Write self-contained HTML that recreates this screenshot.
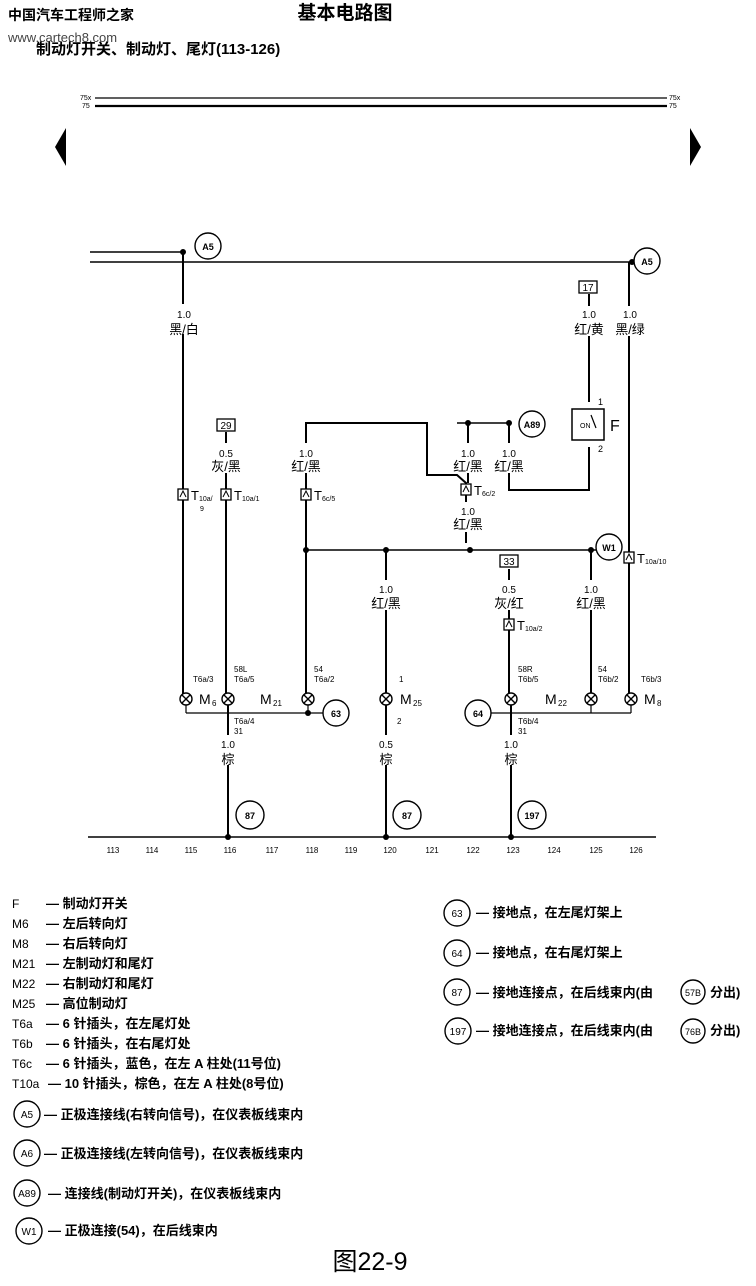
<!DOCTYPE html>
<html><head><meta charset="utf-8"><style>
html,body{margin:0;padding:0;background:#fff;}
svg{display:block;}
text{font-family:"Liberation Sans","Noto Sans CJK SC",sans-serif;fill:#000;}
</style></head><body>
<svg width="756" height="1286" viewBox="0 0 756 1286" xmlns="http://www.w3.org/2000/svg">
<defs>
<g id="lamp"><circle r="6" fill="#fff" stroke="#000" stroke-width="1.4"/><path d="M-4,-4L4,4M4,-4L-4,4" stroke="#000" stroke-width="1.4"/></g>
<g id="conn"><rect x="-5" y="-6" width="10" height="11" fill="#fff" stroke="#000" stroke-width="1.3"/><path d="M-3,2L0,-4L3,2" fill="none" stroke="#000" stroke-width="1"/></g>
</defs>
<!-- header -->
<text x="8" y="20" font-size="14" font-weight="bold">中国汽车工程师之家</text>
<text x="8" y="42" font-size="13" fill="#444" style="fill:#444">www.cartech8.com</text>
<text x="345" y="19" font-size="19" font-weight="bold" text-anchor="middle">基本电路图</text>
<text x="36" y="54" font-size="15" font-weight="bold">制动灯开关、制动灯、尾灯(113-126)</text>
<text x="80" y="100" font-size="7">75x</text><text x="82" y="108" font-size="7">75</text>
<line x1="95" y1="98" x2="667" y2="98" stroke="#000" stroke-width="1.3"/>
<line x1="95" y1="106" x2="667" y2="106" stroke="#000" stroke-width="2.2"/>
<text x="669" y="100" font-size="7">75x</text><text x="669" y="108" font-size="7">75</text>
<polygon points="66,128 55,147 66,166" fill="#000"/>
<polygon points="690,128 701,147 690,166" fill="#000"/>

<g stroke="#000" fill="none" stroke-width="2">
<line x1="90" y1="252" x2="183" y2="252" stroke-width="1.5"/>
<line x1="90" y1="262" x2="632" y2="262" stroke-width="1.5"/>
<line x1="183" y1="252" x2="183" y2="694"/>
<line x1="226" y1="432" x2="226" y2="694"/>
<path d="M306,694 V423 H427 V475 H457 L466,483 V543"/>
<line x1="457" y1="423" x2="509" y2="423" stroke-width="1.5"/>
<line x1="468" y1="423" x2="468" y2="483"/>
<path d="M509,423 V490 H589 V447"/>
<line x1="589" y1="294" x2="589" y2="402"/>
<line x1="629" y1="262" x2="629" y2="694"/>
<line x1="306" y1="550" x2="596" y2="550" stroke-width="1.5"/>
<line x1="386" y1="550" x2="386" y2="837"/>
<line x1="509" y1="569" x2="509" y2="694"/>
<line x1="591" y1="550" x2="591" y2="694"/>
<line x1="228" y1="705" x2="228" y2="837"/>
<line x1="511" y1="705" x2="511" y2="837"/>
<line x1="186" y1="705" x2="186" y2="713" stroke-width="1.2"/>
<line x1="186" y1="713" x2="324" y2="713" stroke-width="1.2"/>
<line x1="490" y1="713" x2="631" y2="713" stroke-width="1.2"/>
<line x1="631" y1="705" x2="631" y2="713" stroke-width="1.2"/>
<line x1="591" y1="705" x2="591" y2="713" stroke-width="1.2"/>
<line x1="308" y1="705" x2="308" y2="713" stroke-width="1.2"/>
<line x1="88" y1="837" x2="656" y2="837" stroke-width="1.5"/>
<rect x="572" y="409" width="32" height="31" stroke-width="1.5"/>
</g>
<g fill="#fff">
<rect x="168" y="304" width="32" height="30"/><rect x="210" y="443" width="32" height="30"/>
<rect x="290" y="443" width="32" height="30"/><rect x="452" y="443" width="32" height="30"/>
<rect x="493" y="443" width="32" height="30"/><rect x="452" y="502" width="32" height="30"/>
<rect x="572" y="306" width="34" height="30"/><rect x="613" y="306" width="34" height="30"/>
<rect x="370" y="580" width="32" height="30"/><rect x="493" y="580" width="32" height="30"/>
<rect x="575" y="580" width="32" height="30"/>
<rect x="212" y="735" width="32" height="30"/><rect x="370" y="735" width="32" height="30"/><rect x="495" y="735" width="32" height="30"/>
</g>
<g font-size="10" text-anchor="middle">
<text x="184" y="318">1.0</text><text x="226" y="457">0.5</text><text x="306" y="457">1.0</text>
<text x="468" y="457">1.0</text><text x="509" y="457">1.0</text><text x="468" y="515">1.0</text>
<text x="589" y="318">1.0</text><text x="630" y="318">1.0</text>
<text x="386" y="593">1.0</text><text x="509" y="593">0.5</text><text x="591" y="593">1.0</text>
<text x="228" y="748">1.0</text><text x="386" y="748">0.5</text><text x="511" y="748">1.0</text>
</g>
<g font-size="13" text-anchor="middle">
<text x="184" y="334">黑/白</text><text x="226" y="471">灰/黑</text><text x="306" y="471">红/黑</text>
<text x="468" y="471">红/黑</text><text x="509" y="471">红/黑</text><text x="468" y="529">红/黑</text>
<text x="589" y="334">红/黄</text><text x="630" y="334">黑/绿</text>
<text x="386" y="608">红/黑</text><text x="509" y="608">灰/红</text><text x="591" y="608">红/黑</text>
<text x="228" y="764">棕</text><text x="386" y="764">棕</text><text x="511" y="764">棕</text>
</g>
<g fill="#000">
<circle cx="183" cy="252" r="3"/><circle cx="632" cy="262" r="3"/>
<circle cx="468" cy="423" r="3"/><circle cx="509" cy="423" r="3"/>
<circle cx="306" cy="550" r="3"/><circle cx="386" cy="550" r="3"/><circle cx="470" cy="550" r="3"/><circle cx="591" cy="550" r="3"/>
<circle cx="308" cy="713" r="3"/>
<circle cx="228" cy="837" r="3"/><circle cx="386" cy="837" r="3"/><circle cx="511" cy="837" r="3"/>
</g>
<g fill="#fff" stroke="#000" stroke-width="1.4">
<circle cx="208" cy="246" r="13"/><circle cx="647" cy="261" r="13"/>
<circle cx="532" cy="424" r="13"/><circle cx="609" cy="547" r="13"/>
<circle cx="336" cy="713" r="13"/><circle cx="478" cy="713" r="13"/>
<circle cx="250" cy="815" r="14"/><circle cx="407" cy="815" r="14"/><circle cx="532" cy="815" r="14"/>
</g>
<g font-size="9" text-anchor="middle" font-weight="bold">
<text x="208" y="250">A5</text><text x="647" y="265">A5</text><text x="532" y="428">A89</text><text x="609" y="551">W1</text>
<text x="336" y="717">63</text><text x="478" y="717">64</text>
<text x="250" y="819">87</text><text x="407" y="819">87</text><text x="532" y="819">197</text>
</g>
<g fill="#fff" stroke="#000" stroke-width="1.3">
<rect x="217" y="419" width="18" height="12"/><rect x="579" y="281" width="18" height="12"/><rect x="500" y="555" width="18" height="12"/>
</g>
<g font-size="10" text-anchor="middle"><text x="226" y="429">29</text><text x="588" y="291">17</text><text x="509" y="565">33</text></g>
<text x="580" y="428" font-size="7">ON</text>
<path d="M591,415 L596,428" stroke="#000" stroke-width="1.2"/>
<text x="598" y="405" font-size="9">1</text><text x="598" y="452" font-size="9">2</text>
<text x="610" y="431" font-size="16">F</text>
<use href="#conn" x="183" y="495"/><use href="#conn" x="226" y="495"/><use href="#conn" x="306" y="495"/>
<use href="#conn" x="466" y="490"/><use href="#conn" x="629" y="558"/><use href="#conn" x="509" y="625"/>
<g font-size="13"><text x="191" y="500">T</text><text x="234" y="500">T</text><text x="314" y="500">T</text><text x="474" y="495">T</text><text x="637" y="563">T</text><text x="517" y="630">T</text></g>
<g font-size="7"><text x="199" y="501">10a/</text><text x="242" y="501">10a/1</text><text x="322" y="501">6c/5</text><text x="482" y="496">6c/2</text><text x="645" y="564">10a/10</text><text x="525" y="631">10a/2</text></g>
<text x="200" y="511" font-size="7">9</text>
<use href="#lamp" x="186" y="699"/><use href="#lamp" x="228" y="699"/><use href="#lamp" x="308" y="699"/>
<use href="#lamp" x="386" y="699"/><use href="#lamp" x="511" y="699"/><use href="#lamp" x="591" y="699"/><use href="#lamp" x="631" y="699"/>
<g font-size="14"><text x="199" y="704">M</text><text x="260" y="704">M</text><text x="400" y="704">M</text><text x="545" y="704">M</text><text x="644" y="704">M</text></g>
<g font-size="8"><text x="212" y="706">6</text><text x="273" y="706">21</text><text x="413" y="706">25</text><text x="558" y="706">22</text><text x="657" y="706">8</text></g>
<g font-size="8">
<text x="193" y="682">T6a/3</text><text x="234" y="672">58L</text><text x="234" y="682">T6a/5</text>
<text x="314" y="672">54</text><text x="314" y="682">T6a/2</text><text x="399" y="682">1</text>
<text x="518" y="672">58R</text><text x="518" y="682">T6b/5</text>
<text x="598" y="672">54</text><text x="598" y="682">T6b/2</text><text x="641" y="682">T6b/3</text>
<text x="234" y="724">T6a/4</text><text x="234" y="734">31</text><text x="397" y="724">2</text>
<text x="518" y="724">T6b/4</text><text x="518" y="734">31</text>
</g>
<g font-size="8" text-anchor="middle">
<text x="113" y="853">113</text><text x="152" y="853">114</text><text x="191" y="853">115</text><text x="230" y="853">116</text>
<text x="272" y="853">117</text><text x="312" y="853">118</text><text x="351" y="853">119</text><text x="390" y="853">120</text>
<text x="432" y="853">121</text><text x="473" y="853">122</text><text x="513" y="853">123</text><text x="554" y="853">124</text>
<text x="596" y="853">125</text><text x="636" y="853">126</text>
</g>
<g font-size="13" font-weight="bold">
<text x="12" y="908" font-size="12" font-weight="normal">F</text><text x="46" y="908">— 制动灯开关</text>
<text x="12" y="928" font-size="12" font-weight="normal">M6</text><text x="46" y="928">— 左后转向灯</text>
<text x="12" y="948" font-size="12" font-weight="normal">M8</text><text x="46" y="948">— 右后转向灯</text>
<text x="12" y="968" font-size="12" font-weight="normal">M21</text><text x="46" y="968">— 左制动灯和尾灯</text>
<text x="12" y="988" font-size="12" font-weight="normal">M22</text><text x="46" y="988">— 右制动灯和尾灯</text>
<text x="12" y="1008" font-size="12" font-weight="normal">M25</text><text x="46" y="1008">— 高位制动灯</text>
<text x="12" y="1028" font-size="12" font-weight="normal">T6a</text><text x="46" y="1028">— 6 针插头，在左尾灯处</text>
<text x="12" y="1048" font-size="12" font-weight="normal">T6b</text><text x="46" y="1048">— 6 针插头，在右尾灯处</text>
<text x="12" y="1068" font-size="12" font-weight="normal">T6c</text><text x="46" y="1068">— 6 针插头，蓝色，在左 A 柱处(11号位)</text>
<text x="12" y="1088" font-size="12" font-weight="normal">T10a</text><text x="48" y="1088">— 10 针插头，棕色，在左 A 柱处(8号位)</text>
<text x="44" y="1119">— 正极连接线(右转向信号)，在仪表板线束内</text>
<text x="44" y="1158">— 正极连接线(左转向信号)，在仪表板线束内</text>
<text x="48" y="1198">— 连接线(制动灯开关)，在仪表板线束内</text>
<text x="48" y="1235">— 正极连接(54)，在后线束内</text>
<text x="476" y="917">— 接地点，在左尾灯架上</text>
<text x="476" y="957">— 接地点，在右尾灯架上</text>
<text x="476" y="997">— 接地连接点，在后线束内(由</text><text x="710" y="997">分出)</text>
<text x="476" y="1035">— 接地连接点，在后线束内(由</text><text x="710" y="1035">分出)</text>
</g>
<g fill="#fff" stroke="#000" stroke-width="1.4">
<circle cx="27" cy="1114" r="13"/><circle cx="27" cy="1153" r="13"/><circle cx="27" cy="1193" r="13"/><circle cx="29" cy="1231" r="13"/>
<circle cx="457" cy="913" r="13"/><circle cx="457" cy="953" r="13"/><circle cx="457" cy="992" r="13"/><circle cx="458" cy="1031" r="13"/>
<circle cx="693" cy="992" r="12"/><circle cx="693" cy="1031" r="12"/>
</g>
<g font-size="10" text-anchor="middle">
<text x="27" y="1118">A5</text><text x="27" y="1157">A6</text><text x="27" y="1197">A89</text><text x="29" y="1235">W1</text>
<text x="457" y="917">63</text><text x="457" y="957">64</text><text x="457" y="996">87</text><text x="458" y="1035">197</text>
<text x="693" y="996" font-size="9">57B</text><text x="693" y="1035" font-size="9">76B</text>
</g>
<text x="370" y="1270" font-size="25" text-anchor="middle" font-family="Liberation Serif, Noto Serif CJK SC, serif">图22-9</text>
</svg>
</body></html>
